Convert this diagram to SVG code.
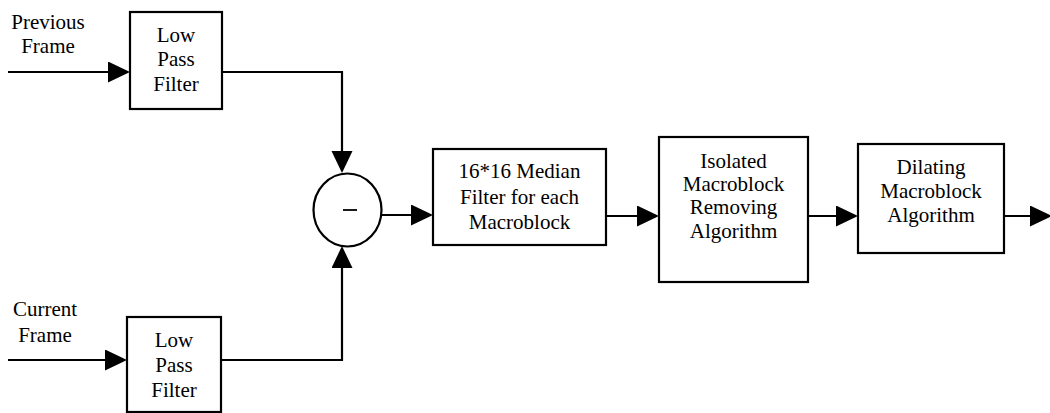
<svg xmlns="http://www.w3.org/2000/svg" width="1050" height="413" viewBox="0 0 1050 413">
<style>
.box{fill:#fff;stroke:#000;stroke-width:2.2}
.t{font-family:'Liberation Serif','DejaVu Serif','Times New Roman',serif;font-size:21px;fill:#000;text-anchor:middle}
.c{fill:none;stroke:#000;stroke-width:2.2}
</style>
<defs>
<marker id="ah" markerUnits="userSpaceOnUse" markerWidth="22" markerHeight="22" refX="17" refY="10.5" orient="auto">
<path d="M0,0 L22,10.5 L0,21 z" fill="#000"/>
</marker>
</defs>
<rect width="1050" height="413" fill="#fff"/>
<g id="connectors">
<path class="c" d="M8,72 H125" marker-end="url(#ah)"/>
<path class="c" d="M8,360 H122" marker-end="url(#ah)"/>
<path class="c" d="M222,72 H342 V168" marker-end="url(#ah)"/>
<path class="c" d="M221,360 H342 V251" marker-end="url(#ah)"/>
<path class="c" d="M382,215 H428" marker-end="url(#ah)"/>
<path class="c" d="M606,216 H654" marker-end="url(#ah)"/>
<path class="c" d="M808,216 H853" marker-end="url(#ah)"/>
<path class="c" d="M1004,216 H1047" marker-end="url(#ah)"/>
</g>
<g id="label-previous">
<text class="t" x="48" y="29" font-family="Liberation Serif, serif">Previous</text>
<text class="t" x="48" y="53" font-family="Liberation Serif, serif">Frame</text>
</g>
<g id="label-current">
<text class="t" x="45" y="316">Current</text>
<text class="t" x="45" y="342">Frame</text>
</g>
<g id="lpf-top">
<rect class="box" x="130" y="12" width="92" height="97"/>
<text class="t" x="176" y="42">Low</text>
<text class="t" x="176" y="66">Pass</text>
<text class="t" x="176" y="91">Filter</text>
</g>
<g id="lpf-bottom">
<rect class="box" x="127" y="317" width="94" height="95"/>
<text class="t" x="174" y="347">Low</text>
<text class="t" x="174" y="372">Pass</text>
<text class="t" x="174" y="397">Filter</text>
</g>
<g id="subtract">
<ellipse class="box" cx="347.5" cy="210" rx="34" ry="36.5"/>
<line x1="343" y1="210" x2="357" y2="210" stroke="#000" stroke-width="1.8"/>
</g>
<g id="median">
<rect class="box" x="433" y="149" width="173" height="96"/>
<text class="t" x="519.5" y="178">16*16 Median</text>
<text class="t" x="519.5" y="204">Filter for each</text>
<text class="t" x="519.5" y="229">Macroblock</text>
</g>
<g id="isolated">
<rect class="box" x="659" y="137" width="149" height="145"/>
<text class="t" x="733.5" y="168">Isolated</text>
<text class="t" x="733.5" y="191">Macroblock</text>
<text class="t" x="733.5" y="214">Removing</text>
<text class="t" x="733.5" y="238">Algorithm</text>
</g>
<g id="dilating">
<rect class="box" x="858" y="144" width="146" height="109"/>
<text class="t" x="931" y="174">Dilating</text>
<text class="t" x="931" y="198">Macroblock</text>
<text class="t" x="931" y="222">Algorithm</text>
</g>
</svg>
